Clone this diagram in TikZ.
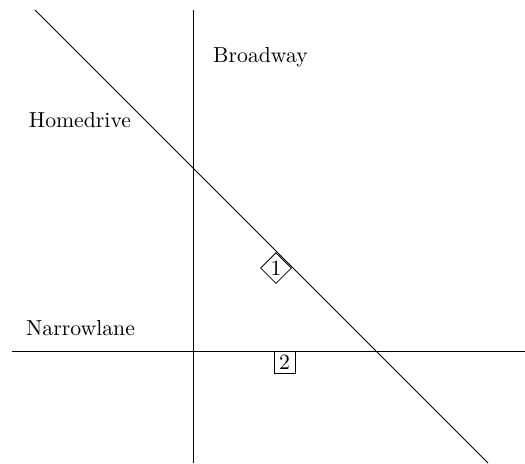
\documentclass[tikz,border=0pt]{standalone}
\usetikzlibrary{shapes.geometric}
\begin{document}
\begin{tikzpicture}[x=0.46pt,y=-0.46pt,
  road/.style={line width=0.4pt,black},
  roadname/.style={anchor=base,inner sep=0pt,font=\normalsize},
  signdiamond/.style={draw,diamond,fill=white,inner sep=0pt,minimum size=14.3pt},
  signbox/.style={draw,rectangle,fill=white,inner sep=0pt,minimum width=9.7pt,minimum height=10.1pt}]
\useasboundingbox (0,0) rectangle (525,463);
% road ends
\coordinate (vtop) at (193,10);
\coordinate (vbot) at (193,463);
\coordinate (hleft) at (12,351);
\coordinate (hright) at (525,351);
\coordinate (dtop) at (35,10);
\coordinate (dbot) at (488,463);
% roads
\draw[road] (vtop) -- (vbot);
\draw[road] (hleft) -- (hright);
\draw[road] (dtop) -- (dbot);
% names
\node[roadname] (broadway) at (260.5,62) {Broadway};
\node[roadname] (homedrive) at (80,127) {Homedrive};
\node[roadname] (narrowlane) at (80.5,335) {Narrowlane};
% signs
\node[signdiamond] (s1) at (276,268) {1};
\node[signbox] (s2) at (284.5,362) {2};
\end{tikzpicture}
\end{document}
